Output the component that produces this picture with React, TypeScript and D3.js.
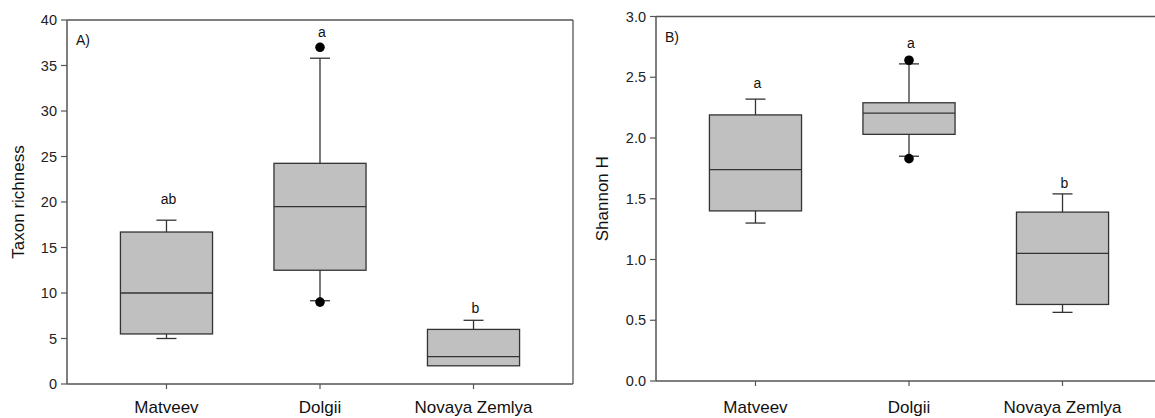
import React from "react";
import * as d3 from "d3";

const categories = ["Matveev", "Dolgii", "Novaya Zemlya"];

// Panel A: Taxon richness box statistics
const richLow = [5.0, 9.15, 2.0];
const richQ1 = [5.5, 12.5, 2.0];
const richMedian = [10.0, 19.5, 3.0];
const richQ3 = [16.7, 24.25, 6.0];
const richHigh = [18.0, 35.8, 7.0];
const richOutliers = [[], [37.0, 9.0], []];
const richLetters = ["ab", "a", "b"];
const richLetterY = [19.8, 38.1, 7.8];
const richTicks = [0, 5, 10, 15, 20, 25, 30, 35, 40];

// Panel B: Shannon H box statistics
const shanLow = [1.3, 1.85, 0.565];
const shanQ1 = [1.4, 2.03, 0.63];
const shanMedian = [1.74, 2.205, 1.05];
const shanQ3 = [2.19, 2.29, 1.39];
const shanHigh = [2.32, 2.61, 1.54];
const shanOutliers = [[], [2.64, 1.83], []];
const shanLetters = ["a", "a", "b"];
const shanLetterY = [2.41, 2.74, 1.59];
const shanTicks = [0, 0.5, 1.0, 1.5, 2.0, 2.5, 3.0];

const FONT = "'Liberation Sans', Arial, sans-serif";
const AXIS = "#555";
const BOXSTROKE = "#333";
const FILL = "#c0c0c0";

type PanelProps = {
  left: number;
  right: number;
  top: number;
  bottom: number;
  domainMax: number;
  low: number[];
  q1: number[];
  med: number[];
  q3: number[];
  high: number[];
  outliers: number[][];
  letters: string[];
  letterY: number[];
  ticks: number[];
  tickFmt: (v: number) => string;
  title: string;
  titleX: number;
  tag: string;
  rightBorder: boolean;
};

function Panel(p: PanelProps) {
  const y = d3.scaleLinear().domain([0, p.domainMax]).range([p.bottom, p.top]);
  const x = d3.scalePoint<string>().domain(categories).range([p.left, p.right]).padding(0.648);
  const step = x.step();
  const bw = step * 0.6;
  const cap = 10;
  return (
    <g>
      {/* frame */}
      <line x1={p.left} x2={p.right} y1={p.top} y2={p.top} stroke={AXIS} strokeWidth={1.3} />
      {p.rightBorder && (
        <line x1={p.right} x2={p.right} y1={p.top} y2={p.bottom} stroke={AXIS} strokeWidth={1.3} />
      )}
      <line x1={p.left} x2={p.left} y1={p.top} y2={p.bottom} stroke={AXIS} strokeWidth={1.5} />
      <line x1={p.left} x2={p.right} y1={p.bottom} y2={p.bottom} stroke={AXIS} strokeWidth={1.5} />
      {/* y ticks */}
      {p.ticks.map((t) => (
        <g key={t}>
          <line x1={p.left - 6} x2={p.left} y1={y(t)} y2={y(t)} stroke={AXIS} strokeWidth={1.2} />
          <text
            x={p.left - 10}
            y={y(t)}
            dy="0.36em"
            textAnchor="end"
            fontSize={14.5}
            fill="#222"
            fontFamily={FONT}
          >
            {p.tickFmt(t)}
          </text>
        </g>
      ))}
      {/* x ticks */}
      {categories.map((c) => (
        <g key={c}>
          <line x1={x(c)!} x2={x(c)!} y1={p.bottom} y2={p.bottom + 5} stroke={AXIS} strokeWidth={1.2} />
          <text x={x(c)!} y={413} textAnchor="middle" fontSize={17} fill="#111" fontFamily={FONT}>
            {c}
          </text>
        </g>
      ))}
      {/* boxes */}
      {categories.map((c, i) => {
        const cx = x(c)!;
        return (
          <g key={"b" + c}>
            <line x1={cx} x2={cx} y1={y(p.q3[i])} y2={y(p.high[i])} stroke={BOXSTROKE} strokeWidth={1.3} />
            <line x1={cx - cap} x2={cx + cap} y1={y(p.high[i])} y2={y(p.high[i])} stroke={BOXSTROKE} strokeWidth={1.3} />
            {p.low[i] < p.q1[i] && (
              <>
                <line x1={cx} x2={cx} y1={y(p.q1[i])} y2={y(p.low[i])} stroke={BOXSTROKE} strokeWidth={1.3} />
                <line x1={cx - cap} x2={cx + cap} y1={y(p.low[i])} y2={y(p.low[i])} stroke={BOXSTROKE} strokeWidth={1.3} />
              </>
            )}
            <rect
              x={cx - bw / 2}
              y={y(p.q3[i])}
              width={bw}
              height={y(p.q1[i]) - y(p.q3[i])}
              fill={FILL}
              stroke={BOXSTROKE}
              strokeWidth={1.3}
            />
            <line x1={cx - bw / 2} x2={cx + bw / 2} y1={y(p.med[i])} y2={y(p.med[i])} stroke={BOXSTROKE} strokeWidth={1.3} />
            {p.outliers[i].map((o, j) => (
              <circle key={j} cx={cx} cy={y(o)} r={4.8} fill="#000" />
            ))}
            <text
              x={cx + 2}
              y={y(p.letterY[i])}
              textAnchor="middle"
              fontSize={14}
              fill="#111"
              fontFamily={FONT}
            >
              {p.letters[i]}
            </text>
          </g>
        );
      })}
      {/* panel tag */}
      <text x={p.left + 9} y={p.top + 25} fontSize={14} fill="#111" fontFamily={FONT}>
        {p.tag}
      </text>
      {/* axis title */}
      <text
        transform={`translate(${p.titleX},${(p.top + p.bottom) / 2}) rotate(-90)`}
        textAnchor="middle"
        fontSize={17}
        fill="#111"
        fontFamily={FONT}
      >
        {p.title}
      </text>
    </g>
  );
}

export default function App() {
  return (
    <svg
      width={1155}
      height={418}
      style={{ position: "absolute", left: 0, top: 0, background: "#fff" }}
    >
      <rect x={0} y={0} width={1155} height={418} fill="#fff" />
      <Panel
        left={67}
        right={573}
        top={20}
        bottom={384}
        domainMax={40}
        low={richLow}
        q1={richQ1}
        med={richMedian}
        q3={richQ3}
        high={richHigh}
        outliers={richOutliers}
        letters={richLetters}
        letterY={richLetterY}
        ticks={richTicks}
        tickFmt={(v) => d3.format("d")(v)}
        title="Taxon richness"
        titleX={24}
        tag="A)"
        rightBorder={true}
      />
      <Panel
        left={656}
        right={1162}
        top={16.5}
        bottom={381}
        domainMax={3}
        low={shanLow}
        q1={shanQ1}
        med={shanMedian}
        q3={shanQ3}
        high={shanHigh}
        outliers={shanOutliers}
        letters={shanLetters}
        letterY={shanLetterY}
        ticks={shanTicks}
        tickFmt={(v) => d3.format(".1f")(v)}
        title="Shannon H"
        titleX={608}
        tag="B)"
        rightBorder={false}
      />
    </svg>
  );
}
